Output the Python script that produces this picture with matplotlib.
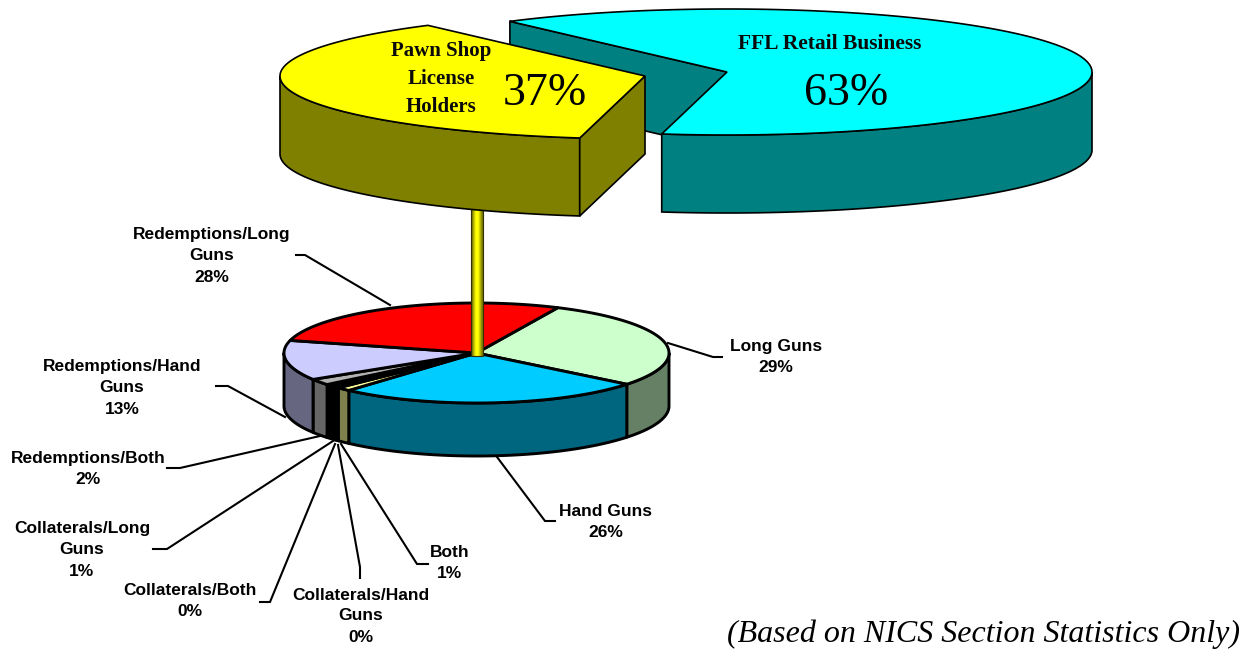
import matplotlib
matplotlib.use('Agg')
import matplotlib.pyplot as plt
import matplotlib.patches as patches
import numpy as np

# top pie
top_names = ['Pawn Shop\nLicense\nHolders', 'FFL Retail Business']
top_values = [37, 63]

# lower pie, clockwise from the red/green edge
low_names = ['Long Guns', 'Hand Guns', 'Both', 'Collaterals/Hand\nGuns', 'Collaterals/Both',
             'Collaterals/Long\nGuns', 'Redemptions/Both', 'Redemptions/Hand\nGuns',
             'Redemptions/Long\nGuns']
low_values = [28.8, 25.8, 1.2, 0.2, 0.2, 1.0, 2.0, 12.9, 27.9]

low_tops = ['#CCFFCC', '#00CCFF', '#FFFF99', '#FFFFCC', '#333333', '#000000', '#B2B2B2', '#CCCCFF', '#FF0000']
low_walls = ['#668066', '#006680', '#80804D', '#808066', '#1A1A1A', '#000000', '#666666', '#666680', '#800000']

# label centre and leader line, in picture pixels
label_xy = [(776, 357), (606, 522), (450, 563), (361, 616), (190, 601), (82, 550), (88, 469), (122, 388), (212, 256)]
leaders = [
    [(722, 357), (713, 357), (668, 343)],
    [(555, 521), (545, 521), (497, 457)],
    [(428, 564), (417, 564), (341, 444)],
    [(360, 578), (360, 567), (338, 445)],
    [(260, 602), (270, 602), (335, 444)],
    [(153, 549), (167, 549), (333, 441)],
    [(167, 468), (180, 468), (320, 436)],
    [(216, 386), (228, 386), (285, 417)],
    [(296, 255), (305, 255), (390, 305)],
]


def rim(cx, cy, rx, ry, a0, a1):
    t = np.radians(np.linspace(a0, a1, max(int(abs(a1 - a0)) * 2, 2)))
    return np.column_stack([cx + rx * np.cos(t), cy + ry * np.sin(t)])


def draw_wall(ax, pts, depth, color, lw):
    low = pts[::-1] + [0, depth]
    ax.add_patch(patches.Polygon(np.vstack([pts, low]), closed=True, facecolor=color,
                                 edgecolor='black', linewidth=lw, joinstyle='round'))


fig = plt.figure(figsize=(12.49, 6.5), dpi=100)
ax = fig.add_axes([0, 0, 1, 1])
ax.axis('off')

# --- lower pie ---
cx, cy, rx, ry, depth = 476.5, 353, 192.5, 50, 53
start = -65
edges = start + np.cumsum([0] + low_values) * 3.6
for i in range(len(low_values)):
    a0, a1 = max(edges[i], 0), min(edges[i + 1], 180)
    if a1 > a0:
        draw_wall(ax, rim(cx, cy, rx, ry, a0, a1), depth, low_walls[i], 2.1)
for i in range(len(low_values)):
    pts = np.vstack([[(cx, cy)], rim(cx, cy, rx, ry, edges[i], edges[i + 1])])
    ax.add_patch(patches.Polygon(pts, closed=True, facecolor=low_tops[i], edgecolor='black',
                                 linewidth=2.1, joinstyle='round'))

# --- stem joining the pies ---
grad = np.array([[0.0, 0.55, 1.0, 1.0, 0.6, 0.1]])
stem_cmap = matplotlib.colors.LinearSegmentedColormap.from_list('stem', ['#6E6E00', '#FFFF00'])
ax.imshow(grad, extent=(471, 483, 356, 205), cmap=stem_cmap, aspect='auto', zorder=2, interpolation='bilinear')
ax.add_patch(patches.Rectangle((471, 205), 12, 151, fill=False, edgecolor='#303000', linewidth=0.8, zorder=2))

# --- top pie ---
top_start = 100.3
cut = top_start + top_values[0] * 3.6
cyan_c = (727, 72)
yellow_c = (645, 76)
top_depth = 78

# cyan slice, inner cut wall first, then rim wall and top
inner = np.array([cyan_c, rim(cyan_c[0], cyan_c[1], 365, 63, cut, cut)[0]])
w = np.vstack([inner, inner[::-1] + [0, top_depth]])
ax.add_patch(patches.Polygon(w, closed=True, facecolor='#008080', edgecolor='black', linewidth=1.2, zorder=3))
w2 = rim(cyan_c[0], cyan_c[1], 365, 63, 0, top_start)
w2 = np.vstack([w2, w2[::-1] + [0, top_depth]])
ax.add_patch(patches.Polygon(w2, closed=True, facecolor='#008080', edgecolor='black', linewidth=1.2, zorder=3))
pts = np.vstack([[cyan_c], rim(cyan_c[0], cyan_c[1], 365, 63, cut, top_start + 360)])
ax.add_patch(patches.Polygon(pts, closed=True, facecolor='#00FFFF', edgecolor='black', linewidth=1.2, zorder=3))

# yellow slice
w3 = rim(yellow_c[0], yellow_c[1], 365, 63, top_start, 180)
w3 = np.vstack([w3, w3[::-1] + [0, top_depth]])
ax.add_patch(patches.Polygon(w3, closed=True, facecolor='#808000', edgecolor='black', linewidth=1.2, zorder=4))
side = np.array([yellow_c, rim(yellow_c[0], yellow_c[1], 365, 63, top_start, top_start)[0]])
side = np.vstack([side, side[::-1] + [0, top_depth]])
ax.add_patch(patches.Polygon(side, closed=True, facecolor='#808000', edgecolor='black', linewidth=1.2, zorder=4))
pts = np.vstack([[yellow_c], rim(yellow_c[0], yellow_c[1], 365, 63, top_start, cut)])
ax.add_patch(patches.Polygon(pts, closed=True, facecolor='#FFFF00', edgecolor='black', linewidth=1.2, zorder=4))

ax.set_xlim(0, 1249)
ax.set_ylim(650, 0)

# --- text ---
ax.text(830, 44, top_names[1], family='Liberation Serif', fontweight='bold', fontsize=15.5, color='#0A0A0A',
        ha='center', va='center', zorder=6)
ax.text(846, 94, f'{top_values[1]}%', family='Liberation Serif', fontsize=33, ha='center', va='center', zorder=6)
ax.text(441, 79, top_names[0], family='Liberation Serif', fontweight='bold', fontsize=15, color='#0A0A0A',
        ha='center', va='center', linespacing=1.55, zorder=6)
ax.text(545, 94, f'{top_values[0]}%', family='Liberation Serif', fontsize=33, ha='center', va='center', zorder=6)

for name, val, xy, line in zip(low_names, low_values, label_xy, leaders):
    xs, ys = zip(*line)
    ax.plot(xs, ys, color='black', linewidth=1.5, zorder=5, solid_joinstyle='miter')
    ax.text(xy[0], xy[1], f'{name}\n{round(val)}%', family='Liberation Sans', fontweight='bold', fontsize=12.5,
            ha='center', va='center', multialignment='center', linespacing=1.5, zorder=6)

ax.text(1240, 634, '(Based on NICS Section Statistics Only)', family='Liberation Serif', style='italic',
        fontsize=23, ha='right', va='center')

fig.savefig('out.png', dpi=100)
